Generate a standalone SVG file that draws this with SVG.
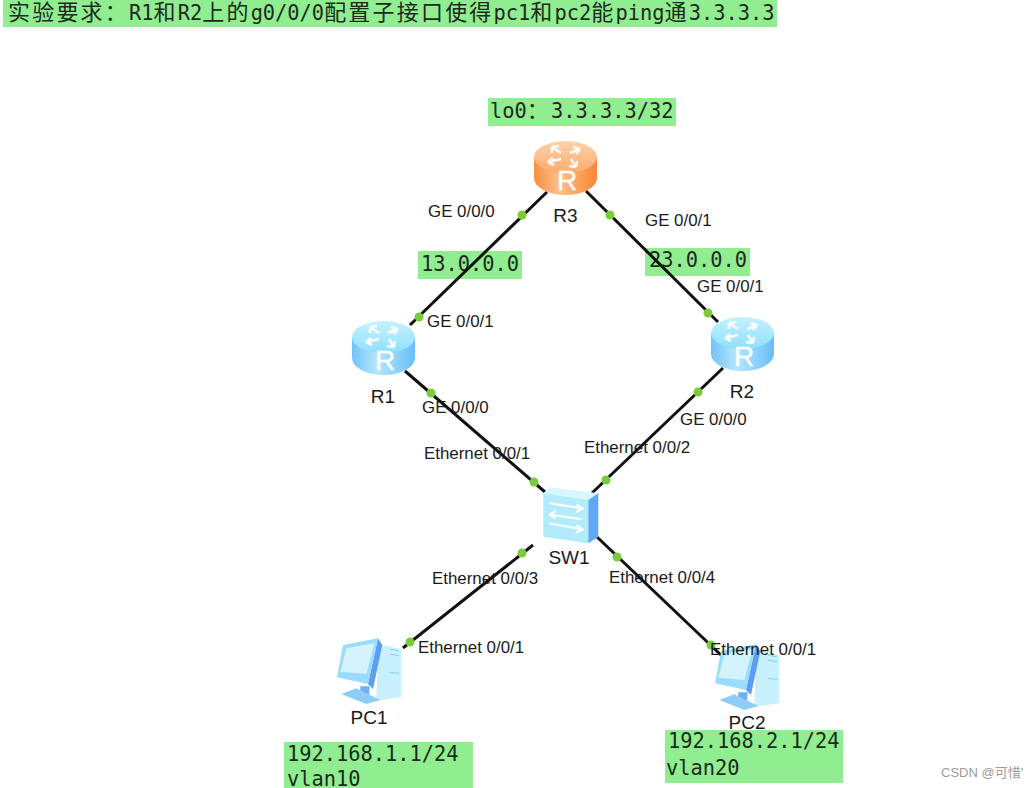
<svg xmlns="http://www.w3.org/2000/svg" width="1033" height="788" viewBox="0 0 1033 788">
  <style>
    .note { fill: #90ee90; }
    .mono { font-family: "DejaVu Sans Mono", "Liberation Mono", monospace; font-size: 20.35px; fill: #1c2a1c; }
    .cjk { font-family: "Noto Sans CJK SC", "Noto Sans", sans-serif; font-size: 22px; letter-spacing: 2.2px; font-weight: 400; }
    .label { font-family: "Liberation Sans", Arial, sans-serif; font-size: 16.9px; fill: #1a1a1a; }
    .name { font-family: "Liberation Sans", Arial, sans-serif; font-size: 19px; fill: #1a1a1a; text-anchor: middle; }
    .link { stroke: #111; stroke-width: 3; fill: none; }
    .dot { fill: #7ccb3a; }
    .glyph { font-family: "Liberation Sans", Arial, sans-serif; font-size: 28px; fill: #fff; stroke: #fff; stroke-width: .4; text-anchor: middle; }
    .arrow { stroke: #fff; stroke-width: 2.6; fill: none; stroke-opacity: .92; }
    .wm { font-family: "Liberation Sans", "Noto Sans CJK SC", sans-serif; font-size: 13px; fill: #9a9a9a; }
  </style>
  <defs>
    <linearGradient id="blueBody" x1="0" x2="1" y1="0" y2="0">
      <stop offset="0" stop-color="#72c4f7"/><stop offset=".4" stop-color="#b5e6fd"/><stop offset=".7" stop-color="#8ed4fb"/><stop offset="1" stop-color="#66bdf6"/>
    </linearGradient>
    <linearGradient id="blueTop" x1="0" x2="0" y1="0" y2="1">
      <stop offset="0" stop-color="#c4f2ff"/><stop offset="1" stop-color="#8fe0fb"/>
    </linearGradient>
    <linearGradient id="orangeBody" x1="0" x2="1" y1="0" y2="0">
      <stop offset="0" stop-color="#f78f3e"/><stop offset=".4" stop-color="#fdc08c"/><stop offset=".7" stop-color="#fba25f"/><stop offset="1" stop-color="#f68735"/>
    </linearGradient>
    <linearGradient id="orangeTop" x1="0" x2="0" y1="0" y2="1">
      <stop offset="0" stop-color="#ffd2ac"/><stop offset="1" stop-color="#fbaa6e"/>
    </linearGradient>
    <g id="routerArrows" class="arrow">
      <path d="M27 13 L18 7 M18 7 l7 -1 M18 7 l0 6"/>
      <path d="M36 13 L46 9 M46 9 l-7 -2 M46 9 l-4 5"/>
      <path d="M27 19 L14 22 M14 22 l6 3 M14 22 l5 -4"/>
      <path d="M37 19 L42 27 M42 27 l-7 -1 M42 27 l1 -6"/>
    </g>
    <g id="routerBlue">
      <path d="M0 17 V38 A31.5 17 0 0 0 63 38 V17 Z" fill="url(#blueBody)"/>
      <ellipse cx="31.5" cy="17" rx="31.5" ry="16" fill="url(#blueTop)"/>
      <use href="#routerArrows"/>
    </g>
    <g id="routerOrange">
      <path d="M0 17 V38 A31.5 17 0 0 0 63 38 V17 Z" fill="url(#orangeBody)"/>
      <ellipse cx="31.5" cy="17" rx="31.5" ry="16" fill="url(#orangeTop)"/>
      <use href="#routerArrows"/>
    </g>
    <g id="pcShape" transform="scale(.3333)">
      <path d="M165 45 L235 60 L235 205 L160 215 Z" fill="#c9f1fd"/>
      <path d="M200 60 L228 66 M200 75 L228 80 M200 130 L228 133" stroke="#7fcdf5" stroke-width="3"/>
      <path d="M165 28 L178 48 L150 180 L135 165 Z" fill="#5c9ff2"/>
      <path d="M112 172 L140 172 L138 200 L112 196 Z" fill="#6fb0f5"/>
      <path d="M55 195 L100 178 L172 213 L130 225 Z" fill="#8ecdf9"/>
      <path d="M60 48 L165 28 L135 165 L42 145 Z" fill="#9adcfb"/>
      <path d="M70 58 L155 42 L130 135 L52 128 Z" fill="#d5f3fe"/>
    </g>
    <g id="switchShape" transform="scale(.3333)">
      <path d="M40 40 L60 22 L205 40 L175 60 Z" fill="#d7f7ff"/>
      <path d="M40 40 L175 60 L175 190 L40 170 Z" fill="#b2ecfc"/>
      <path d="M175 60 L205 40 L205 170 L175 190 Z" fill="#5fa8f5"/>
      <path d="M58 70 L155 85 M140 74 L158 86 L138 96" stroke="#fff" stroke-width="6" fill="none"/>
      <path d="M155 118 L62 104 M78 92 L60 104 L76 116" stroke="#fff" stroke-width="6" fill="none"/>
      <path d="M58 130 L155 148 M140 136 L158 149 L138 158" stroke="#fff" stroke-width="6" fill="none"/>
    </g>
  </defs>

  <rect width="1033" height="788" fill="#fff"/>

  <g id="requirement">
    <rect class="note" x="3" y="0" width="774" height="27"/>
    <text class="mono" x="8" y="20"><tspan class="cjk">实验要求：</tspan>R1<tspan class="cjk">和</tspan>R2<tspan class="cjk">上的</tspan>g0/0/0<tspan class="cjk">配置子接口使得</tspan>pc1<tspan class="cjk">和</tspan>pc2<tspan class="cjk">能</tspan>ping<tspan class="cjk">通</tspan>3.3.3.3</text>
  </g>

  <g id="loopback-note">
    <rect class="note" x="488" y="98" width="188" height="28"/>
    <text class="mono" x="490" y="118">lo0<tspan class="cjk">：</tspan>3.3.3.3/32</text>
  </g>
  <g id="net13-note">
    <rect class="note" x="418" y="251" width="104" height="28"/>
    <text class="mono" x="421" y="271">13.0.0.0</text>
  </g>
  <g id="net23-note">
    <rect class="note" x="645" y="248" width="105" height="28"/>
    <text class="mono" x="649" y="267">23.0.0.0</text>
  </g>

  <g id="connectors">
    <path class="link" d="M547 192 L410 325"/>
    <path class="link" d="M586 191 L718 322"/>
    <path class="link" d="M405 371 L545 492"/>
    <path class="link" d="M723 368 L592 493"/>
    <path class="link" d="M533 545 L403 648"/>
    <path class="link" d="M597 537 L722 656"/>
    <circle class="dot" cx="522" cy="215" r="4.5"/>
    <circle class="dot" cx="610" cy="215" r="4.5"/>
    <circle class="dot" cx="419" cy="317" r="4.5"/>
    <circle class="dot" cx="708" cy="313" r="4.5"/>
    <circle class="dot" cx="431" cy="393" r="4.5"/>
    <circle class="dot" cx="698" cy="392" r="4.5"/>
    <circle class="dot" cx="534" cy="482" r="4.5"/>
    <circle class="dot" cx="606" cy="480" r="4.5"/>
    <circle class="dot" cx="522" cy="553" r="4.5"/>
    <circle class="dot" cx="617" cy="557" r="4.5"/>
    <circle class="dot" cx="410" cy="642" r="4.5"/>
    <circle class="dot" cx="711" cy="645" r="4.5"/>
  </g>

  <g id="R3">
    <use href="#routerOrange" x="534" y="140"/>
    <text class="glyph" x="567" y="190">R</text>
    <text class="name" x="565.500" y="222">R3</text>
  </g>
  <g id="R1">
    <use href="#routerBlue" x="352" y="320"/>
    <text class="glyph" x="385" y="370">R</text>
    <text class="name" x="383" y="403">R1</text>
  </g>
  <g id="R2">
    <use href="#routerBlue" x="711" y="316"/>
    <text class="glyph" x="744" y="366">R</text>
    <text class="name" x="742" y="398">R2</text>
  </g>
  <g id="SW1">
    <use href="#switchShape" transform="translate(530 480)"/>
    <text class="name" x="569" y="564">SW1</text>
  </g>
  <g id="PC1">
    <use href="#pcShape" transform="translate(323 629)"/>
    <text class="name" x="369" y="724">PC1</text>
  </g>
  <g id="PC2">
    <use href="#pcShape" transform="translate(701 635)"/>
    <text class="name" x="747" y="729">PC2</text>
  </g>

  <g id="pc1-note">
    <rect class="note" x="284" y="742" width="189" height="46"/>
    <text class="mono" x="287" y="761">192.168.1.1/24</text>
    <text class="mono" x="287" y="786">vlan10</text>
  </g>
  <g id="pc2-note">
    <rect class="note" x="665" y="730" width="178" height="53"/>
    <text class="mono" x="668" y="748">192.168.2.1/24</text>
    <text class="mono" x="666" y="775">vlan20</text>
  </g>

  <g id="port-labels">
    <text class="label" x="428" y="217">GE 0/0/0</text>
    <text class="label" x="645" y="226">GE 0/0/1</text>
    <text class="label" x="697" y="292">GE 0/0/1</text>
    <text class="label" x="427" y="327">GE 0/0/1</text>
    <text class="label" x="422" y="413">GE 0/0/0</text>
    <text class="label" x="680" y="425">GE 0/0/0</text>
    <text class="label" x="424" y="459">Ethernet 0/0/1</text>
    <text class="label" x="584" y="453">Ethernet 0/0/2</text>
    <text class="label" x="432" y="584">Ethernet 0/0/3</text>
    <text class="label" x="609" y="583">Ethernet 0/0/4</text>
    <text class="label" x="418" y="653">Ethernet 0/0/1</text>
    <text class="label" x="710" y="655">Ethernet 0/0/1</text>
  </g>

  <text class="wm" x="941" y="777">CSDN @可惜'</text>
</svg>
